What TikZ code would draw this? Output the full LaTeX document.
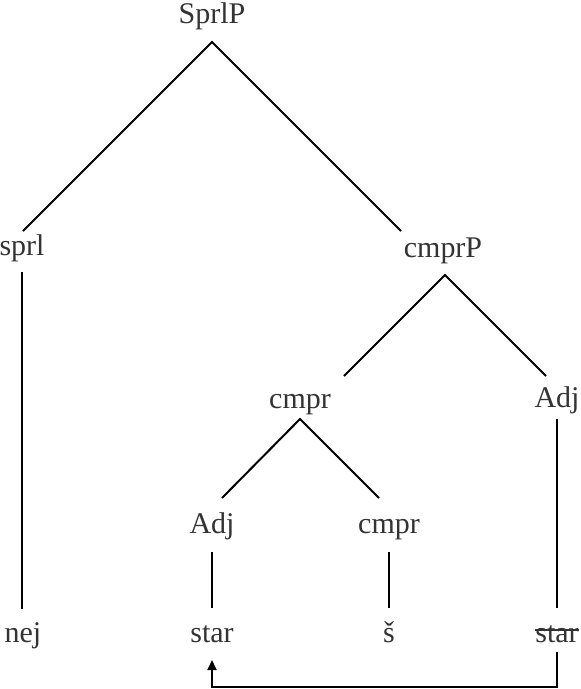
\documentclass[tikz,border=0pt]{standalone}
\usepackage{fontspec}
\setmainfont{Liberation Serif}
\usetikzlibrary{arrows.meta}
\begin{document}
\begin{tikzpicture}[x=1pt,y=-1pt,
  lab/.style={anchor=base,inner sep=0pt,outer sep=0pt,text=black!80,font=\fontsize{30}{33}\selectfont},
  branch/.style={line width=2pt,draw=black},
  movearrow/.style={line width=2pt,draw=black,-{Triangle[width=9pt,length=10pt]}},
  strike/.style={line width=1.4pt,draw=black!80}]
\useasboundingbox (0,0) rectangle (581,689);
% nodes
\node[lab] (SprlP) at (212,23) {SprlP};
\node[lab] (sprl) at (22,255) {sprl};
\node[lab] (cmprP) at (443,257) {cmprP};
\node[lab] (cmprA) at (300,408) {cmpr};
\node[lab] (adjR) at (557,407) {Adj};
\node[lab] (adjL) at (212,533) {Adj};
\node[lab] (cmprB) at (389,533) {cmpr};
\node[lab] (nej) at (23,642) {nej};
\node[lab] (starA) at (212,642) {star};
\node[lab] (sh) at (389,642) {š};
\node[lab] (starB) at (557,642) {star};
% branches
\draw[branch] ([xshift=1pt,yshift=24pt]sprl.base) -- ([yshift=-19pt]SprlP.base) -- ([xshift=-42pt,yshift=26pt]cmprP.base);
\draw[branch] ([yshift=-17pt]sprl.base) -- ([xshift=-1pt,yshift=33pt]nej.base);
\draw[branch] ([xshift=44pt,yshift=32pt]cmprA.base) -- ([xshift=2pt,yshift=-18pt]cmprP.base) -- ([xshift=-11pt,yshift=31pt]adjR.base);
\draw[branch] ([xshift=10pt,yshift=35pt]adjL.base) -- ([yshift=-11pt]cmprA.base) -- ([xshift=-10pt,yshift=35pt]cmprB.base);
\draw[branch] ([yshift=-12pt]adjR.base) -- ([yshift=34pt]starB.base);
\draw[branch] ([yshift=-19pt]adjL.base) -- ([yshift=34pt]starA.base);
\draw[branch] ([yshift=-19pt]cmprB.base) -- ([yshift=34pt]sh.base);
% strike-through on the lower copy
\draw[strike] ([yshift=12pt]starB.base west) -- ([yshift=12pt]starB.base east);
% movement arrow
\draw[movearrow] ([yshift=-10pt]starB.base) -- ++(0,35) -| ([yshift=-18pt]starA.base);
\end{tikzpicture}
\end{document}
